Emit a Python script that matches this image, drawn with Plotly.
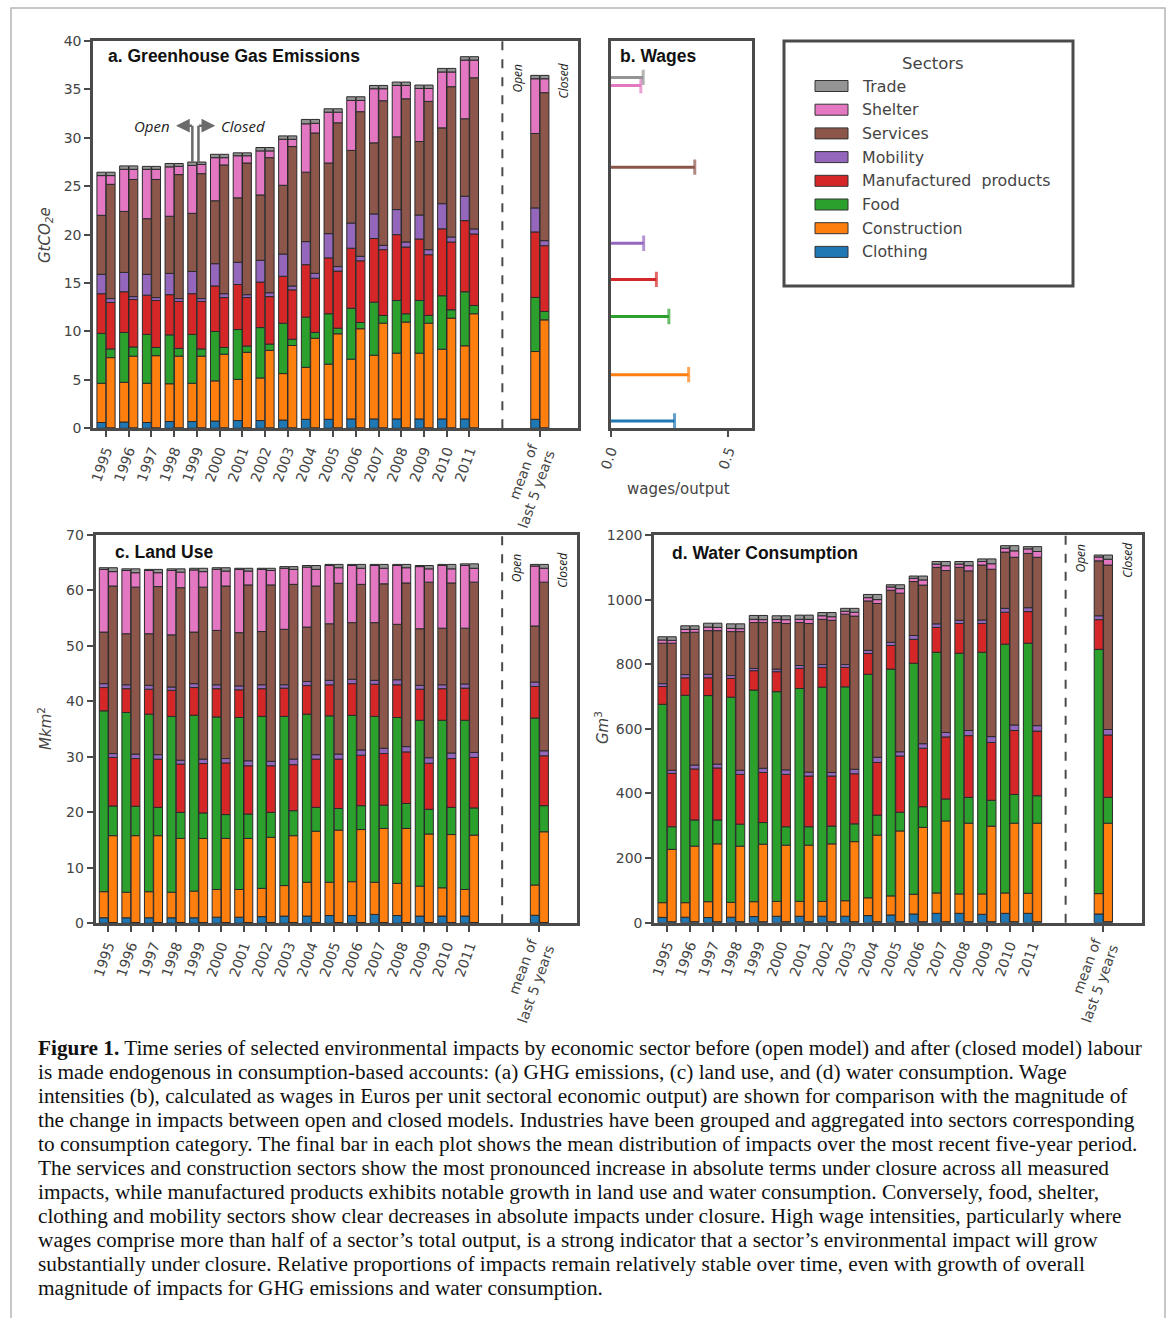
import plotly.graph_objects as go

W, H = 1173, 1318

# ---------------- data ----------------
SECTORS = ["Clothing", "Construction", "Food", "Manufactured  products",
           "Mobility", "Services", "Shelter", "Trade"]
COLORS = ["#1f77b4", "#ff7f0e", "#2ca02c", "#d62728",
          "#9467bd", "#8c564b", "#e377c2", "#949494"]
YEARS = [str(y) for y in range(1995, 2012)]
MEAN_LABEL = "mean of<br>last 5 years"

# cumulative stack tops per bar (Clothing .. Trade), 17 years + mean of last 5 years
ghg_open_tops = [
    [0.60, 4.65, 9.80, 13.90, 15.90, 22.00, 26.10, 26.45],
    [0.65, 4.75, 9.90, 14.10, 16.10, 22.40, 26.75, 27.10],
    [0.60, 4.65, 9.70, 13.75, 15.90, 21.65, 26.75, 27.05],
    [0.70, 4.60, 9.65, 13.80, 16.00, 21.90, 27.00, 27.35],
    [0.70, 4.65, 9.70, 13.90, 16.20, 22.20, 27.15, 27.50],
    [0.75, 4.90, 10.00, 14.70, 17.00, 23.50, 27.95, 28.30],
    [0.80, 5.05, 10.20, 14.85, 17.15, 23.80, 28.15, 28.45],
    [0.80, 5.20, 10.40, 15.10, 17.35, 24.10, 28.65, 29.00],
    [0.85, 5.65, 10.85, 15.70, 18.00, 25.10, 29.85, 30.20],
    [0.93, 6.30, 11.48, 16.90, 19.28, 26.45, 31.45, 31.90],
    [0.93, 6.62, 11.83, 17.60, 20.10, 27.40, 32.65, 33.00],
    [0.97, 7.14, 12.40, 18.60, 21.20, 28.70, 33.86, 34.24],
    [0.97, 7.55, 13.03, 19.60, 22.14, 29.48, 35.07, 35.41],
    [0.97, 7.76, 13.20, 20.00, 22.59, 30.10, 35.41, 35.76],
    [0.97, 7.76, 13.20, 19.55, 22.03, 29.62, 35.10, 35.45],
    [0.97, 8.17, 13.69, 20.60, 23.20, 31.03, 36.80, 37.17],
    [0.97, 8.52, 14.10, 21.45, 23.97, 31.97, 38.03, 38.38],
    [0.93, 7.93, 13.52, 20.28, 22.76, 30.45, 36.10, 36.45],
]
ghg_closed_tops = [
    [0.05, 7.30, 8.20, 13.00, 13.40, 25.20, 26.10, 26.45],
    [0.05, 7.45, 8.40, 13.30, 13.60, 25.70, 26.75, 27.10],
    [0.05, 7.50, 8.35, 13.20, 13.50, 25.70, 26.75, 27.05],
    [0.05, 7.45, 8.25, 13.10, 13.40, 26.20, 27.05, 27.35],
    [0.05, 7.45, 8.20, 13.10, 13.40, 26.30, 27.25, 27.50],
    [0.05, 7.65, 8.35, 13.50, 13.90, 27.20, 27.95, 28.30],
    [0.05, 7.85, 8.50, 13.50, 13.80, 27.40, 28.15, 28.45],
    [0.05, 8.05, 8.70, 13.60, 14.00, 27.95, 28.65, 29.00],
    [0.05, 8.55, 9.20, 14.30, 14.70, 29.10, 29.85, 30.20],
    [0.05, 9.30, 9.90, 15.50, 16.00, 30.50, 31.50, 31.90],
    [0.05, 9.76, 10.34, 16.24, 16.70, 31.55, 32.65, 33.00],
    [0.05, 10.28, 10.93, 17.30, 17.76, 32.70, 33.86, 34.24],
    [0.05, 10.86, 11.66, 18.45, 18.90, 33.83, 35.07, 35.41],
    [0.05, 10.97, 11.83, 18.72, 19.24, 34.03, 35.41, 35.76],
    [0.05, 10.86, 11.66, 17.93, 18.45, 33.76, 35.10, 35.45],
    [0.05, 11.38, 12.24, 19.24, 19.76, 35.28, 36.80, 37.17],
    [0.05, 11.83, 12.69, 20.07, 20.59, 36.20, 38.03, 38.38],
    [0.05, 11.20, 12.07, 18.86, 19.38, 34.66, 36.10, 36.45],
]
land_open_tops = [
    [1.00, 5.70, 38.30, 42.50, 43.20, 52.50, 63.80, 64.10],
    [1.00, 5.60, 38.00, 42.30, 43.00, 52.20, 63.60, 63.90],
    [1.00, 5.70, 37.70, 42.20, 42.90, 52.20, 63.60, 63.80],
    [1.00, 5.60, 37.30, 42.00, 42.60, 52.00, 63.60, 63.90],
    [1.00, 5.80, 37.50, 42.50, 43.20, 52.50, 63.70, 64.00],
    [1.10, 6.10, 37.20, 42.30, 43.00, 52.80, 63.80, 64.10],
    [1.10, 6.10, 37.10, 42.10, 42.80, 52.40, 63.80, 64.00],
    [1.20, 6.30, 37.30, 42.30, 43.00, 52.60, 63.80, 64.00],
    [1.30, 6.80, 37.30, 42.40, 43.00, 53.00, 64.00, 64.30],
    [1.30, 7.40, 37.70, 42.85, 43.60, 53.40, 64.20, 64.50],
    [1.40, 7.40, 37.40, 43.00, 43.80, 54.00, 64.50, 64.70],
    [1.40, 7.50, 37.50, 43.20, 44.00, 54.20, 64.50, 64.70],
    [1.60, 7.40, 37.30, 43.10, 43.80, 54.20, 64.50, 64.70],
    [1.40, 7.20, 37.10, 43.00, 43.90, 53.90, 64.50, 64.70],
    [1.30, 6.70, 36.60, 42.20, 42.90, 53.10, 64.30, 64.50],
    [1.30, 6.40, 36.60, 42.30, 43.00, 53.20, 64.50, 64.70],
    [1.30, 6.10, 36.60, 42.40, 43.15, 53.20, 64.50, 64.80],
    [1.45, 6.90, 37.00, 42.70, 43.50, 53.60, 64.40, 64.70],
]
land_closed_tops = [
    [0.15, 15.80, 21.15, 29.90, 30.60, 60.80, 63.40, 64.10],
    [0.15, 15.80, 21.10, 29.70, 30.50, 60.60, 63.20, 63.90],
    [0.15, 15.80, 20.90, 29.60, 30.40, 60.70, 63.20, 63.80],
    [0.15, 15.30, 20.00, 28.70, 29.40, 60.50, 63.30, 63.90],
    [0.15, 15.30, 19.90, 28.80, 29.60, 60.60, 63.40, 64.00],
    [0.15, 15.30, 19.60, 28.90, 29.70, 60.80, 63.50, 64.10],
    [0.15, 15.30, 19.70, 28.40, 29.30, 61.00, 63.50, 64.00],
    [0.15, 15.50, 20.00, 28.40, 29.20, 61.00, 63.60, 64.00],
    [0.15, 15.80, 20.30, 28.60, 29.60, 61.10, 63.80, 64.30],
    [0.15, 16.60, 20.90, 29.60, 30.40, 60.80, 63.80, 64.50],
    [0.15, 16.80, 20.70, 29.60, 30.50, 61.30, 64.10, 64.70],
    [0.15, 16.90, 21.20, 30.30, 31.25, 61.10, 64.00, 64.70],
    [0.15, 17.10, 21.30, 30.60, 31.55, 61.20, 64.00, 64.70],
    [0.15, 17.10, 21.60, 30.90, 31.85, 61.35, 64.10, 64.70],
    [0.15, 16.10, 20.55, 28.85, 29.85, 61.50, 63.90, 64.50],
    [0.15, 16.00, 20.90, 29.70, 30.70, 61.35, 63.90, 64.70],
    [0.15, 15.90, 20.80, 29.90, 30.80, 61.50, 64.00, 64.80],
    [0.15, 16.50, 21.20, 30.20, 31.10, 61.50, 64.00, 64.70],
]
water_open_tops = [
    [16.5, 62, 676, 731, 740, 865, 875, 885],
    [17, 62, 704, 758, 768, 898, 908, 919],
    [16, 65, 703, 758, 769, 904, 915, 927],
    [17, 63, 698, 756, 765, 901, 911, 925],
    [19, 65, 720, 780, 787, 929, 939, 951],
    [20, 66, 715, 777, 785, 929, 939, 950],
    [20, 66, 725, 787, 796, 929, 939, 952],
    [20, 66, 729, 790, 799, 939, 950, 960],
    [20, 68, 730, 790, 799, 955, 964, 973],
    [22, 77, 769, 833, 843, 996, 1006, 1016],
    [24, 83, 785, 858, 868, 1029, 1039, 1046],
    [27, 88, 803, 877, 889, 1056, 1066, 1073],
    [29, 92, 837, 914, 925, 1100, 1110, 1118],
    [29, 89, 834, 926, 936, 1100, 1110, 1118],
    [26, 89, 837, 926, 937, 1107, 1118, 1126],
    [29, 92, 862, 961, 973, 1147, 1159, 1167],
    [29, 91, 865, 963, 975, 1143, 1157, 1164],
    [27, 90, 846, 938, 950, 1120, 1132, 1138],
]
water_closed_tops = [
    [3, 227, 297, 462, 472, 865, 874, 885],
    [3, 237, 318, 476, 488, 899, 908, 919],
    [3, 244, 318, 479, 491, 904, 914, 927],
    [3, 237, 305, 459, 472, 901, 910, 925],
    [3, 243, 310, 465, 478, 929, 938, 951],
    [3, 240, 297, 459, 473, 926, 938, 950],
    [3, 240, 297, 454, 466, 926, 939, 952],
    [3, 244, 299, 454, 465, 936, 947, 960],
    [3, 251, 306, 461, 475, 949, 961, 973],
    [3, 271, 333, 496, 512, 988, 1000, 1016],
    [3, 284, 342, 516, 529, 1020, 1034, 1046],
    [3, 295, 359, 540, 554, 1045, 1061, 1073],
    [3, 315, 383, 575, 589, 1090, 1105, 1118],
    [3, 308, 388, 579, 595, 1089, 1105, 1118],
    [3, 299, 379, 558, 576, 1094, 1111, 1126],
    [3, 308, 397, 595, 612, 1131, 1151, 1167],
    [3, 308, 393, 593, 610, 1131, 1149, 1164],
    [3, 308, 388, 581, 598, 1107, 1125, 1138],
]

# wage intensities (wages/output), Clothing .. Trade, and their vertical placement (GtCO2e scale)
wage_values = [0.271, 0.331, 0.247, 0.194, 0.140, 0.357, 0.128, 0.138]
wage_levels = [0.75, 5.54, 11.55, 15.38, 19.11, 26.97, 35.40, 36.24]

CAPTION_LINES = [
    "<b>Figure 1.</b> Time series of selected environmental impacts by economic sector before (open model) and after (closed model) labour",
    "is made endogenous in consumption-based accounts: (a) GHG emissions, (c) land use, and (d) water consumption. Wage",
    "intensities (b), calculated as wages in Euros per unit sectoral economic output) are shown for comparison with the magnitude of",
    "the change in impacts between open and closed models. Industries have been grouped and aggregated into sectors corresponding",
    "to consumption category. The final bar in each plot shows the mean distribution of impacts over the most recent five-year period.",
    "The services and construction sectors show the most pronounced increase in absolute terms under closure across all measured",
    "impacts, while manufactured products exhibits notable growth in land use and water consumption. Conversely, food, shelter,",
    "clothing and mobility sectors show clear decreases in absolute impacts under closure. High wage intensities, particularly where",
    "wages comprise more than half of a sector\u2019s total output, is a strong indicator that a sector\u2019s environmental impact will grow",
    "substantially under closure. Relative proportions of impacts remain relatively stable over time, even with growth of overall",
    "magnitude of impacts for GHG emissions and water consumption.",
]

# ---------------- layout helpers (arguments are page pixels) ----------------
def fx(p):
    return p / W


def fy(p):
    return 1 - p / H


TICK_FONT = dict(family="DejaVu Sans", size=14, color="#444444")
SPINE = "#4a4a4a"
XRANGE = [-0.56, 20.78]
MEAN_POS = 19.1
DIVIDER = 17.45
positions = list(range(len(YEARS))) + [MEAN_POS]
ticktext = YEARS + [MEAN_LABEL]
BAR_W = 0.39
OFF = 0.205

fig = go.Figure()

panels = [
    # (xaxis id, yaxis id, open tops, closed tops, x px domain, y px domain, yrange, ytick step)
    ("x", "y", ghg_open_tops, ghg_closed_tops, (93.3, 578.0), (41.0, 428.3), [0, 40], 5),
    ("x3", "y3", land_open_tops, land_closed_tops, (95.7, 577.3), (535.0, 923.3), [0, 70], 10),
    ("x4", "y4", water_open_tops, water_closed_tops, (654.3, 1141.7), (535.0, 922.7), [0, 1200], 200),
]

for xa, ya, otops, ctops, _, _, _, _ in panels:
    for tops, shift in ((otops, -OFF), (ctops, OFF)):
        for s in range(len(SECTORS)):
            base = [row[s - 1] if s > 0 else 0 for row in tops]
            vals = [row[s] - b for row, b in zip(tops, base)]
            fig.add_trace(go.Bar(
                x=[p + shift for p in positions], y=vals, base=base,
                width=BAR_W, marker=dict(color=COLORS[s], line=dict(color="#2a2a2a", width=1)),
                xaxis=xa, yaxis=ya, showlegend=False, hoverinfo="skip"))

# wages panel
for s in range(len(SECTORS)):
    fig.add_trace(go.Scatter(
        x=[0, wage_values[s]], y=[wage_levels[s], wage_levels[s]], mode="lines+markers",
        line=dict(color=COLORS[s], width=3),
        marker=dict(symbol="line-ns-open", size=[0, 11], line=dict(color=COLORS[s], width=3)),
        xaxis="x2", yaxis="y2", showlegend=False, hoverinfo="skip"))

axis_common = dict(showline=True, mirror=True, linewidth=3, linecolor=SPINE,
                   showgrid=False, zeroline=False, ticks="outside", ticklen=6,
                   tickwidth=2, tickcolor=SPINE, tickfont=TICK_FONT, automargin=False)

layout = dict(width=W, height=H, margin=dict(l=0, r=0, t=0, b=0, pad=0, autoexpand=False),
              paper_bgcolor="white", plot_bgcolor="white", barmode="overlay",
              showlegend=False, hovermode=False,
              font=dict(family="DejaVu Sans", color="#444444"))

for xa, ya, _, _, xd, yd, yr, step in panels:
    xkey = "xaxis" + xa[1:]
    ykey = "yaxis" + ya[1:]
    layout[xkey] = dict(axis_common, domain=[fx(xd[0]), fx(xd[1])], range=XRANGE,
                        tickmode="array", tickvals=positions, ticktext=ticktext,
                        tickangle=-70, anchor=ya)
    layout[ykey] = dict(axis_common, domain=[fy(yd[1]), fy(yd[0])], range=yr,
                        tickmode="linear", tick0=0, dtick=step, anchor=xa)

layout["xaxis2"] = dict(axis_common, domain=[fx(610.7), fx(752.0)], range=[0, 0.6],
                        tickmode="array", tickvals=[0, 0.5], ticktext=["0.0", "0.5"],
                        tickangle=-70, anchor="y2")
layout["yaxis2"] = dict(axis_common, domain=[fy(428.3), fy(41.0)], range=[0, 40],
                        ticks="", showticklabels=False, anchor="x2")

shapes = []
annotations = []

# dividers
for xa, ya, *_ in panels:
    shapes.append(dict(type="line", xref=xa, yref=ya + " domain", x0=DIVIDER, x1=DIVIDER,
                       y0=0, y1=1, line=dict(color="#4a4a4a", width=2, dash="dash")))

# Open / Closed labels at the mean bars
for xa, ya, otops, ctops, *_ in panels:
    top = otops[-1][-1]
    annotations.append(dict(text="<i>Open</i>", xref=xa, yref=ya, x=MEAN_POS - 1.0, y=top,
                            yshift=-3, textangle=-90, showarrow=False, xanchor="center",
                            yanchor="middle",
                            font=dict(family="Open Sans", size=12, color="#222222")))
    annotations.append(dict(text="<i>Closed</i>", xref=xa, yref=ya, x=MEAN_POS + 1.02, y=top,
                            yshift=-5, textangle=-90, showarrow=False, xanchor="center",
                            yanchor="middle",
                            font=dict(family="Open Sans", size=12, color="#222222")))

# Open <- | | -> Closed pointer on the 1999 bars
i99 = YEARS.index("1999")
arrow_y = 31.25
xo = positions[i99] - 0.2
xc = positions[i99] + 0.07
for xv, top in ((xo, ghg_open_tops[i99][-1]), (xc, ghg_closed_tops[i99][-1])):
    shapes.append(dict(type="line", xref="x", yref="y", x0=xv, x1=xv, y0=top, y1=arrow_y,
                       line=dict(color="#6b6b6b", width=2.5)))
annotations.append(dict(text="", xref="x", yref="y", x=xo - 0.72, y=arrow_y,
                        ax=xo + 0.05, ay=arrow_y, axref="x", ayref="y", showarrow=True,
                        arrowhead=2, arrowsize=1.1, arrowwidth=2.5, arrowcolor="#6b6b6b"))
annotations.append(dict(text="", xref="x", yref="y", x=xc + 0.74, y=arrow_y,
                        ax=xc - 0.05, ay=arrow_y, axref="x", ayref="y", showarrow=True,
                        arrowhead=2, arrowsize=1.1, arrowwidth=2.5, arrowcolor="#6b6b6b"))
annotations.append(dict(text="<i>Open</i>", xref="x", yref="y", x=xo - 0.9, y=arrow_y,
                        xanchor="right", yanchor="middle", showarrow=False,
                        font=dict(family="Open Sans", size=15, color="#222222")))
annotations.append(dict(text="<i>Closed</i>", xref="x", yref="y", x=xc + 0.92, y=arrow_y,
                        xanchor="left", yanchor="middle", showarrow=False,
                        font=dict(family="Open Sans", size=15, color="#222222")))

# panel titles
TITLE_FONT = dict(family="Liberation Sans", size=17.5, color="#111111")
for txt, x, y in (("<b>a. Greenhouse Gas Emissions</b>", 106, 56),
                  ("<b>b. Wages</b>", 618, 56),
                  ("<b>c. Land Use</b>", 113, 552),
                  ("<b>d. Water Consumption</b>", 670, 553)):
    annotations.append(dict(text=txt, xref="paper", yref="paper", x=fx(x), y=fy(y),
                            xanchor="left", yanchor="middle", showarrow=False, font=TITLE_FONT))

# y axis titles
YT_FONT = dict(family="DejaVu Sans", size=15, color="#444444")
for txt, x, y in (("<i>GtCO</i><sub><i>2</i></sub><i>e</i>", 45, 235),
                  ("<i>Mkm</i><sup>2</sup>", 45, 729),
                  ("<i>Gm</i><sup>3</sup>", 602, 728)):
    annotations.append(dict(text=txt, xref="paper", yref="paper", x=fx(x), y=fy(y),
                            textangle=-90, xanchor="center", yanchor="middle",
                            showarrow=False, font=YT_FONT))
annotations.append(dict(text="wages/output", xref="paper", yref="paper", x=fx(678), y=fy(489),
                        xanchor="center", yanchor="middle", showarrow=False, font=YT_FONT))

# legend box (drawn)
shapes.append(dict(type="rect", xref="paper", yref="paper", x0=fx(784), x1=fx(1073),
                   y0=fy(286), y1=fy(41), line=dict(color=SPINE, width=3)))
annotations.append(dict(text="Sectors", xref="paper", yref="paper", x=fx(933), y=fy(63),
                        xanchor="center", yanchor="middle", showarrow=False,
                        font=dict(family="DejaVu Sans", size=16.5, color="#444444")))
legend_order = list(range(len(SECTORS)))[::-1]
for k, s in enumerate(legend_order):
    yc = 86 + k * 23.7
    shapes.append(dict(type="rect", xref="paper", yref="paper", x0=fx(815), x1=fx(848),
                       y0=fy(yc + 5.5), y1=fy(yc - 5.5), fillcolor=COLORS[s],
                       line=dict(color="#333333", width=1)))
    annotations.append(dict(text=SECTORS[s], xref="paper", yref="paper", x=fx(860), y=fy(yc),
                            xanchor="left", yanchor="middle", showarrow=False,
                            font=dict(family="DejaVu Sans", size=15.8, color="#444444")))

# caption
for k, line in enumerate(CAPTION_LINES):
    annotations.append(dict(text=line, xref="paper", yref="paper", x=fx(36), y=fy(1048 + 24 * k),
                            xanchor="left", yanchor="middle", showarrow=False,
                            font=dict(family="Liberation Serif", size=21.3, color="#111111")))

# page frame
shapes.append(dict(type="rect", xref="paper", yref="paper", x0=fx(11), x1=fx(1165),
                   y0=fy(1340), y1=fy(8), line=dict(color="#b5b5b5", width=1.5), layer="below"))

layout["shapes"] = shapes
layout["annotations"] = annotations
fig.update_layout(**layout)
fig.write_html(
    "out.html",
    config={"displayModeBar": False, "staticPlot": True},
    post_script="document.body.style.margin='0';document.body.style.overflow='hidden';"
                "document.documentElement.style.overflow='hidden';",
)
